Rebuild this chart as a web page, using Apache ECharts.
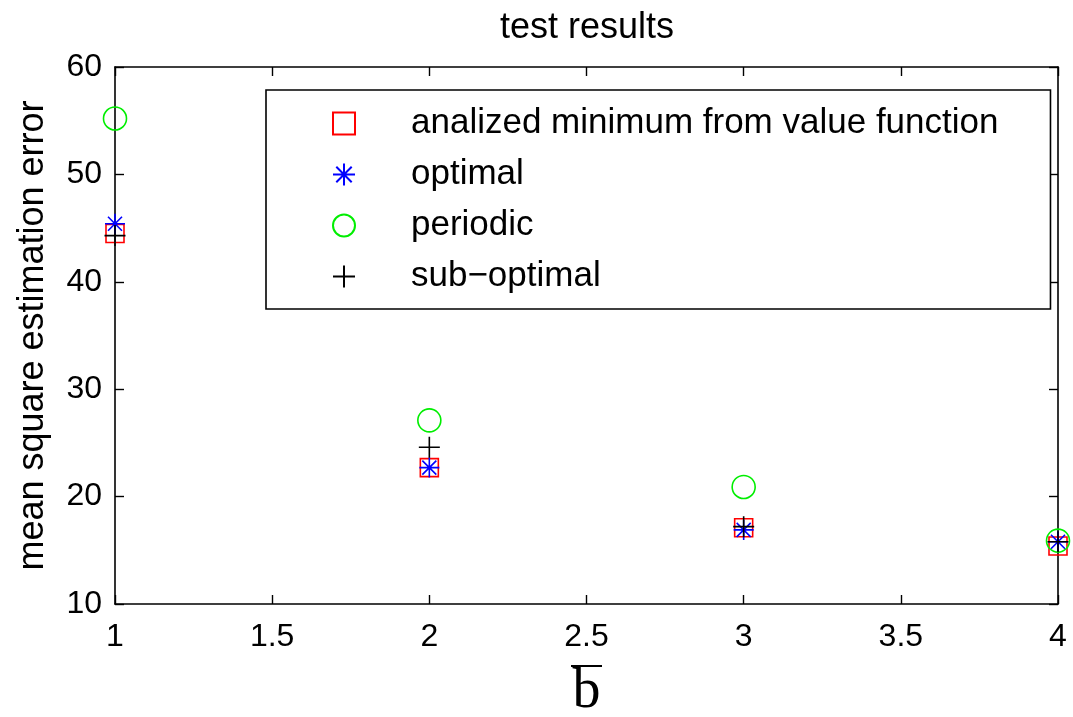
<!DOCTYPE html>
<html>
<head>
<meta charset="utf-8">
<script src="https://cdn.jsdelivr.net/npm/echarts@6/dist/echarts.min.js"></script>
<style>
  html, body { margin: 0; padding: 0; background: #fff; }
  #chart { width: 1073px; height: 717px; }
</style>
</head>
<body>
<div id="chart"></div>
<script>
// b-bar values on the x axis
const bValues = [1, 2, 3, 4];

// mean square estimation error per method
const analized = [44.5, 22.7, 17.1, 15.4];
const optimal = [45.4, 22.7, 16.9, 15.8];
const periodic = [55.2, 27.1, 20.9, 15.9];
const subOptimal = [44.3, 24.6, 17.2, 15.8];

const seriesNames = ['analized minimum from value function', 'optimal', 'periodic', 'sub\u2212optimal'];

const FONT = 'Liberation Sans';

// marker paths (stroke only)
const starPath = 'path://M5,0L5,10M0,5L10,5M1.5,1.5L8.5,8.5M8.5,1.5L1.5,8.5';
const plusPath = 'path://M5,0L5,10M0,5L10,5';

function pts(vals) {
  return bValues.map((b, i) => [b, vals[i]]);
}

function scatter(name, vals, symbol, size, color) {
  return {
    name: name,
    type: 'scatter',
    data: pts(vals),
    symbol: symbol,
    symbolSize: size,
    clip: false,
    itemStyle: { color: 'transparent', borderColor: color, borderWidth: 1.6, opacity: 1 },
    emphasis: { disabled: true }
  };
}

const chart = echarts.init(document.getElementById('chart'));

const axisCommon = {
  type: 'value',
  axisLine: { show: true, lineStyle: { color: '#000', width: 1.6 } },
  axisTick: { show: true, inside: true, length: 9, lineStyle: { color: '#000', width: 1.4 } },
  splitLine: { show: false }
};

chart.setOption({
  animation: false,
  backgroundColor: '#fff',
  title: {
    text: 'test results',
    left: 495,
    top: 5,
    textStyle: { fontFamily: FONT, fontSize: 36, fontWeight: 'normal', color: '#000' }
  },
  grid: { left: 115, right: 15, top: 67, bottom: 113, containLabel: false, outerBoundsMode: 'none' },
  legend: {
    orient: 'vertical',
    left: 266,
    top: 90,
    data: seriesNames,
    backgroundColor: '#fff',
    borderColor: '#000',
    borderWidth: 1.6,
    borderRadius: 0,
    padding: [16, 52, 15, 66],
    itemWidth: 22,
    itemHeight: 22,
    itemGap: 16,
    textStyle: { fontFamily: FONT, fontSize: 35, color: '#000', padding: [0, 0, 0, 51] }
  },
  xAxis: [
    Object.assign({}, axisCommon, {
      position: 'bottom',
      min: 1, max: 4, interval: 0.5,
      axisLabel: { fontFamily: FONT, fontSize: 32, color: '#000', margin: 17,
        formatter: v => String(v) },
      name: '{o| }\n{b|b}',
      nameLocation: 'middle',
      nameGap: 60,
      nameTextStyle: {
        color: '#000',
        rich: {
          o: { width: 31, height: 2, fontSize: 2, lineHeight: 4, backgroundColor: '#000', align: 'center' },
          b: { fontFamily: 'Liberation Serif', fontSize: 56, lineHeight: 48, color: '#000', align: 'center' }
        }
      }
    }),
    Object.assign({}, axisCommon, {
      position: 'top',
      min: 1, max: 4, interval: 0.5,
      axisLabel: { show: false }
    })
  ],
  yAxis: [
    Object.assign({}, axisCommon, {
      position: 'left',
      min: 10, max: 60, interval: 10,
      axisLabel: { fontFamily: FONT, fontSize: 32, color: '#000', margin: 13 },
      name: 'mean square estimation error',
      nameLocation: 'middle',
      nameRotate: 90,
      nameGap: 64,
      nameTextStyle: { fontFamily: FONT, fontSize: 36, color: '#000' }
    }),
    Object.assign({}, axisCommon, {
      position: 'right',
      min: 10, max: 60, interval: 10,
      axisLabel: { show: false }
    })
  ],
  series: [
    scatter(seriesNames[0], analized, 'rect', 18, '#ff0000'),
    scatter(seriesNames[1], optimal, starPath, 20, '#0000ff'),
    scatter(seriesNames[2], periodic, 'circle', 23, '#00ee00'),
    scatter(seriesNames[3], subOptimal, plusPath, 21, '#000000')
  ]
});
</script>
</body>
</html>
